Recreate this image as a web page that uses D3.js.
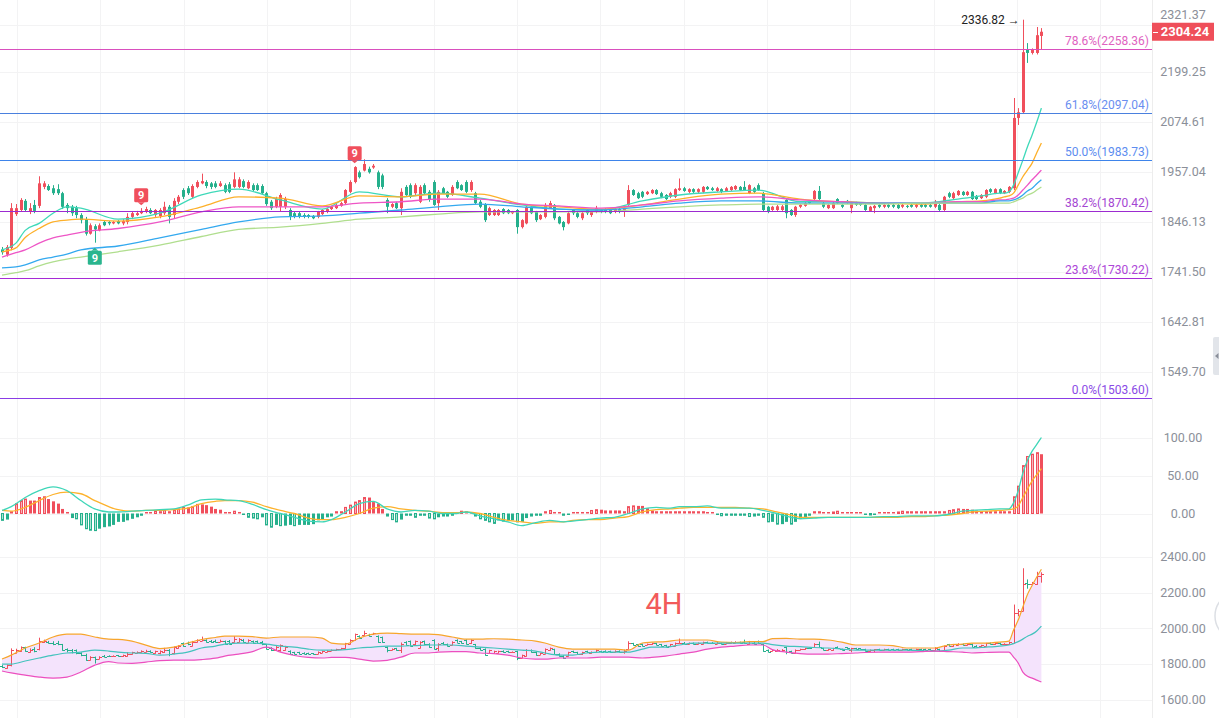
<!DOCTYPE html>
<html><head><meta charset="utf-8">
<script src="https://cdn.jsdelivr.net/npm/d3@7"></script>
<style>body{margin:0;background:#fff;overflow:hidden}svg{display:block;font-family:Roboto,"Noto Sans",Arial,sans-serif}</style>
</head><body><svg id="c" width="1219" height="718"></svg>
<script>
// ---------- DATA ----------
const opens = [1788,1777,1791,1863,1872,1892,1868,1883,1881,1923,1925,1920,1918,1909,1883,1879,1876,1861,1852,1821,1837,1828,1846,1846,1843,1848,1843,1846,1857,1861,1865,1868,1872,1861,1859,1865,1879,1861,1890,1916,1920,1901,1923,1931,1934,1931,1931,1925,1927,1929,1923,1923,1936,1920,1927,1927,1925,1909,1890,1879,1879,1879,1872,1865,1865,1861,1861,1859,1857,1863,1868,1874,1876,1881,1887,1912,1934,1956,1960,1964,1967,1956,1949,1894,1879,1887,1876,1923,1927,1909,1890,1927,1912,1934,1887,1920,1912,1905,1934,1927,1934,1916,1909,1890,1883,1861,1861,1861,1874,1872,1865,1872,1835,1843,1879,1868,1852,1857,1876,1883,1857,1846,1843,1872,1865,1854,1872,1861,1868,1872,1874,1872,1868,1874,1868,1883,1916,1909,1912,1907,1909,1916,1909,1905,1901,1901,1916,1920,1912,1918,1912,1912,1923,1920,1914,1918,1914,1916,1918,1923,1923,1909,1920,1927,1909,1879,1872,1872,1872,1894,1872,1861,1879,1881,1890,1896,1914,1887,1876,1876,1896,1883,1892,1876,1887,1887,1883,1870,1876,1883,1879,1883,1883,1883,1879,1881,1883,1879,1883,1883,1883,1879,1883,1872,1909,1898,1905,1912,1905,1912,1903,1898,1901,1918,1909,1918,1909,1912,1920,2084,2098,2256,2248,2248,2293];
const highs = [1793,1797,1887,1885,1898,1896,1887,1894,1947,1936,1929,1927,1929,1912,1887,1883,1881,1865,1857,1843,1841,1843,1850,1848,1848,1850,1852,1865,1868,1870,1876,1879,1876,1874,1876,1890,1883,1898,1905,1920,1925,1929,1938,1953,1938,1934,1936,1936,1931,1934,1956,1945,1940,1938,1931,1931,1929,1912,1894,1901,1909,1901,1876,1868,1868,1865,1863,1861,1870,1874,1876,1881,1885,1890,1918,1938,1970,1960,1986,1969,1975,1960,1953,1898,1887,1890,1920,1927,1931,1931,1927,1931,1916,1938,1916,1923,1914,1927,1938,1929,1938,1938,1912,1894,1887,1879,1874,1874,1876,1874,1870,1874,1852,1883,1881,1870,1863,1887,1892,1885,1859,1848,1868,1874,1868,1868,1874,1870,1881,1874,1876,1874,1876,1876,1880,1927,1918,1912,1914,1914,1918,1918,1912,1907,1912,1920,1942,1923,1920,1920,1920,1925,1925,1923,1923,1920,1923,1925,1927,1925,1936,1929,1923,1931,1912,1881,1881,1883,1883,1896,1874,1881,1885,1890,1892,1916,1925,1890,1885,1890,1898,1885,1894,1890,1890,1889,1885,1881,1883,1885,1885,1885,1885,1885,1885,1883,1885,1885,1885,1885,1885,1894,1885,1903,1912,1912,1916,1914,1914,1914,1905,1907,1918,1920,1920,1920,1916,1925,2133,2108,2336.82,2274,2260,2317,2314];
const lows = [1777,1773,1786,1859,1868,1868,1863,1865,1876,1918,1914,1905,1905,1874,1865,1859,1854,1843,1817,1819,1802,1826,1837,1839,1841,1841,1839,1841,1852,1859,1863,1865,1863,1857,1854,1861,1843,1854,1885,1896,1905,1898,1920,1929,1920,1918,1920,1923,1909,1909,1920,1920,1920,1918,1914,1914,1905,1881,1872,1876,1868,1874,1850,1854,1854,1854,1854,1852,1854,1861,1865,1872,1874,1879,1885,1909,1931,1942,1958,1953,1964,1918,1918,1865,1876,1874,1861,1903,1898,1905,1887,1905,1890,1881,1872,1907,1898,1903,1918,1914,1909,1912,1885,1876,1846,1859,1859,1859,1863,1863,1863,1821,1832,1841,1863,1846,1850,1854,1874,1850,1841,1828,1841,1861,1854,1850,1861,1857,1865,1865,1865,1863,1865,1865,1857,1881,1903,1896,1898,1905,1907,1905,1898,1894,1898,1898,1914,1912,1909,1909,1909,1909,1916,1914,1912,1909,1912,1914,1916,1914,1914,1907,1909,1914,1868,1865,1870,1870,1870,1854,1859,1857,1876,1879,1885,1894,1894,1876,1874,1874,1885,1876,1885,1865,1881,1881,1870,1868,1865,1876,1876,1876,1876,1874,1876,1876,1877,1876,1877,1877,1877,1876,1868,1870,1898,1896,1903,1903,1903,1894,1894,1896,1898,1909,1907,1907,1907,1909,1916,2067,2095,2222,2244,2244,2256];
const closes = [1782,1793,1876,1876,1894,1872,1876,1870,1931,1931,1916,1909,1909,1879,1876,1865,1861,1850,1821,1839,1830,1839,1839,1843,1846,1843,1848,1857,1865,1865,1870,1874,1865,1872,1872,1879,1857,1892,1901,1901,1909,1925,1934,1936,1925,1923,1923,1931,1912,1912,1940,1940,1923,1934,1916,1916,1909,1885,1876,1896,1905,1896,1857,1857,1857,1857,1857,1854,1868,1872,1874,1879,1883,1887,1916,1934,1968,1945,1975,1956,1971,1923,1923,1879,1885,1876,1912,1905,1901,1927,1923,1909,1894,1883,1912,1909,1901,1923,1920,1916,1912,1934,1887,1879,1850,1876,1872,1872,1865,1865,1868,1835,1850,1879,1865,1850,1861,1883,1887,1854,1843,1835,1865,1865,1857,1865,1865,1868,1876,1868,1868,1865,1874,1868,1874,1916,1905,1898,1901,1912,1916,1907,1901,1896,1909,1918,1920,1914,1918,1912,1918,1923,1918,1916,1920,1912,1920,1923,1925,1916,1916,1927,1912,1916,1872,1868,1879,1880,1880,1865,1861,1879,1883,1887,1887,1914,1896,1879,1883,1887,1887,1879,1887,1887,1883,1883,1872,1879,1881,1879,1883,1879,1879,1876,1883,1879,1879,1883,1879,1879,1879,1890,1872,1901,1901,1909,1914,1905,1912,1896,1896,1905,1916,1912,1918,1909,1914,1923,2084,2098,2250,2248,2256,2295,2304.24];

// moving averages (sampled at candle indices)
const maIdx = [0,3,5,8,11,14,17,25,34,43,51,60,69,77,86,94,103,112,120,129,138,146,155,163,172,181,189,198,206,211,215,216,217,218,219,220,221,222,223,224];
const ma1 = [1787,1801,1828,1843,1865,1879,1876,1852,1865,1905,1918,1894,1874,1912,1901,1909,1898,1883,1874,1872,1892,1905,1912,1916,1890,1890,1887,1887,1896,1903,1909,1909,1912,1927,1955,1984,2015,2043,2074,2108];
const ma2 = [1783,1791,1813,1832,1846,1850,1852,1848,1857,1879,1901,1898,1881,1903,1901,1907,1907,1885,1879,1874,1883,1896,1907,1909,1896,1890,1887,1885,1890,1892,1898,1901,1903,1909,1927,1946,1961,1977,2001,2024];
const ma3 = [1772,1781,1787,1801,1812,1818,1824,1832,1846,1868,1879,1879,1879,1887,1890,1896,1896,1885,1881,1876,1883,1892,1898,1901,1894,1890,1887,1887,1890,1890,1894,1894,1896,1898,1905,1916,1927,1939,1950,1961];
const ma4 = [1750,1752,1756,1766,1772,1778,1787,1795,1812,1830,1846,1857,1859,1865,1872,1879,1885,1879,1874,1872,1879,1887,1892,1892,1887,1887,1887,1887,1887,1887,1892,1892,1892,1894,1898,1905,1914,1920,1930,1939];
const ma5 = [1735,1740,1744,1754,1762,1768,1772,1783,1797,1815,1830,1835,1843,1852,1857,1863,1868,1868,1868,1868,1874,1879,1883,1885,1885,1885,1885,1887,1887,1887,1887,1887,1887,1890,1894,1898,1905,1909,1916,1923];

// fibonacci levels
const fibRatios = ['78.6%','61.8%','50.0%','38.2%','23.6%','0.0%'];
const fibValues = [2258.36,2097.04,1983.73,1870.42,1730.22,1503.60];

// TD sequential markers
const tdIdx = [20,30,76];
const tdSide = ['low','high','high'];
const tdText = ['9','9','9'];

// price axis ticks
const priceTicks = [2321.37,2199.25,2074.61,1957.04,1846.13,1741.50,1642.81,1549.70];

// MACD
const macdHist = [-9,-8,3,13,17,19,17,17,21,22,19,16,13,6,2,-6,-7,-15,-20,-22,-22.5,-20,-18,-17,-15,-11,-11,-9,-7,-5,-3,2,2,3,3,4,3,4,6,8,8,9,12,12,11,9,6,5,2,1,3,2,-1,-5,-6,-7,-5,-15,-18,-15,-16,-16,-15,-16,-15,-15,-15,-14,-9,-8,-5,-4,3,3,8,11,15,17,21,21,15,13,6,-4,-8,-11,-8,-3,-3,-5,-3,-3,-6,-7,-5,-4,-4,-3,2,3,3,1,-4,-7,-9,-11,-13,-9,-10,-10,-9,-11,-11,-6,-4,-3,-3,3,4,2,1,-3,-1,2,2,2,2,4,5,5,4,4,4,4,3,9,10,10,10,7,4,3,3,3,3,3,3,3,3,3,3,3,2,2,-2,-3,-3,-3,-3,-3,-3,-4,-4,-3,-5,-11,-11,-14,-14,-11,-14,-11,-7,-5,-3,3,3,1,1,2,3,2,1,1,1,1,-1,-2,-2,1,1,1,1,2,3,3,3,3,3,3,3,3,3,3,4,5,6,6,6,5,4,3,3,3,3,3,3,3,22,36,63,75,78,80,78];
const macdIdx = [0,2,5,8,11,14,17,20,23,25,28,31,34,37,40,43,46,48,51,54,57,60,63,66,69,71,74,77,80,83,86,89,92,95,98,100,103,106,109,112,115,118,121,123,126,129,132,135,138,141,144,146,149,152,155,158,161,164,167,170,172,175,178,181,184,187,190,193,196,199,201,204,207,209,212,215,217,218,219,220,221,222,223,224];
const difVals = [4,9,21,30,35,30,17,6,2,2,3,4,5,6,11,18,19,18,17,12,5,0,-5,-10,-11,-8,2,13,16,6,2,4,3,0,0,2,-3,-7,-11,-16,-12,-9,-11,-10,-8,-6,-5,0,6,8,7,9,9,10,7,7,7,4,0,-5,-7,-6,-5,-5,-5,-5,-4,-4,-3,-3,-3,-1,3,4,5,6,6,14,30,53,70,82,91,100];
const deaVals = [4,3,8,17,25,28,26,17,9,5,3,4,4,5,7,13,16,17,17,15,9,4,0,-6,-8,-8,-5,0,7,9,6,4,3,1,1,2,0,-5,-9,-11,-13,-11,-11,-9,-8,-8,-6,-4,2,5,6,7,8,8,8,8,7,6,2,-2,-5,-5,-5,-5,-5,-5,-5,-5,-4,-4,-3,-2,0,2,3,4,5,6,10,21,32,43,51,59];
const macdTicks = [100,50,0];

// Bollinger bands
const bollIdx = [0,2,5,8,11,14,17,20,23,25,28,31,34,37,40,43,46,48,51,54,57,60,63,66,69,71,74,77,80,83,86,89,92,94,97,100,103,106,109,112,115,117,120,123,126,129,132,135,138,140,143,146,149,152,155,158,161,164,166,169,172,175,178,181,184,186,189,192,195,198,201,204,207,209,212,215,217,218,219,220,221,222,223,224];
const bollUpper = [1827,1849,1889,1917,1951,1967,1967,1951,1939,1937,1928,1905,1886,1894,1917,1937,1948,1956,1956,1953,1945,1951,1951,1951,1945,1917,1911,1945,1967,1973,1970,1967,1967,1964,1951,1939,1939,1941,1939,1934,1928,1917,1894,1883,1883,1883,1883,1877,1917,1922,1925,1934,1934,1934,1922,1920,1925,1925,1942,1943,1939,1939,1934,1922,1906,1906,1906,1903,1889,1889,1889,1906,1911,1917,1917,1922,1928,1990,2046,2119,2190,2240,2288,2331];
const bollMid = [1799,1799,1816,1833,1849,1861,1866,1877,1872,1866,1861,1859,1849,1855,1866,1889,1900,1911,1917,1917,1911,1900,1894,1883,1877,1877,1880,1889,1894,1900,1900,1903,1906,1906,1906,1900,1894,1889,1883,1877,1872,1861,1849,1849,1861,1866,1866,1866,1883,1894,1894,1906,1917,1917,1917,1917,1917,1917,1908,1900,1897,1892,1889,1883,1877,1877,1877,1877,1877,1874,1872,1877,1889,1889,1894,1900,1906,1914,1925,1939,1955,1967,1985,2012];
const bollLower = [1760,1749,1737,1726,1720,1726,1754,1793,1813,1805,1803,1810,1818,1821,1821,1824,1832,1844,1855,1869,1894,1866,1847,1836,1833,1836,1837,1827,1816,1820,1838,1861,1861,1866,1869,1869,1861,1858,1849,1833,1827,1827,1833,1833,1833,1838,1838,1838,1833,1836,1844,1855,1866,1883,1894,1900,1906,1906,1880,1866,1858,1855,1855,1858,1861,1864,1866,1866,1866,1869,1872,1869,1866,1861,1864,1866,1866,1838,1805,1754,1730,1720,1709,1698];
const bollTicks = [2400,2200,2000,1800,1600];
const periodLabel = '4H';

// ---------- DRAW ----------
const N = closes.length;
const PR = 1152;
const UP = '#f04f5c', DN = '#25b08c';
const svg = d3.select('#c');
const x = d3.scaleLinear().domain([0, N - 1]).range([2, 1041.4]);
const yMain = d3.scaleLog().domain([1503.6, 2258.36]).range([398, 49]);
const yMacd = d3.scaleLinear().domain([0, 100]).range([513.5, 437.5]);
const yBoll = d3.scaleLinear().domain([1600, 2400]).range([699.5, 557]);
const f2 = d3.format('.2f');
const cx = i => Math.round(x(i)) + 0.5;
const last = closes[N - 1];
const ly = yMain(last);

const defs = svg.append('defs');
defs.append('clipPath').attr('id', 'cm').append('rect').attr('x', 0).attr('y', 0).attr('width', PR).attr('height', 412);
defs.append('clipPath').attr('id', 'cd').append('rect').attr('x', 0).attr('y', 412).attr('width', PR).attr('height', 134);
defs.append('clipPath').attr('id', 'cb').append('rect').attr('x', 0).attr('y', 546).attr('width', PR).attr('height', 172);

// grid
const grid = svg.append('g').attr('stroke', '#f3f3f4').attr('stroke-width', 1);
grid.selectAll('line.v').data(d3.range(14)).join('line')
  .attr('x1', k => Math.round(17 + k * 83.333) + 0.5).attr('x2', k => Math.round(17 + k * 83.333) + 0.5)
  .attr('y1', 0).attr('y2', 718);
const hl = (arr, sc) => grid.append('g').selectAll('line').data(arr).join('line')
  .attr('x1', 0).attr('x2', PR).attr('y1', d => Math.round(sc(d)) + 0.5).attr('y2', d => Math.round(sc(d)) + 0.5);
hl(priceTicks, yMain); hl(macdTicks, yMacd); hl(bollTicks, yBoll);
svg.append('line').attr('x1', PR + 0.5).attr('x2', PR + 0.5).attr('y1', 0).attr('y2', 718).attr('stroke', '#ededed');

// ----- main panel -----
const main = svg.append('g').attr('clip-path', 'url(#cm)');
const up = i => closes[i] >= opens[i];
const ids = d3.range(N);
main.append('g').selectAll('line').data(ids).join('line')
  .attr('x1', cx).attr('x2', cx).attr('y1', i => yMain(highs[i])).attr('y2', i => yMain(lows[i]))
  .attr('stroke', i => up(i) ? UP : DN).attr('stroke-width', 1);
main.append('g').selectAll('rect').data(ids).join('rect')
  .attr('x', i => Math.round(x(i)) - 1).attr('width', 3)
  .attr('y', i => Math.min(yMain(opens[i]), yMain(closes[i])))
  .attr('height', i => Math.max(1, Math.abs(yMain(opens[i]) - yMain(closes[i]))))
  .attr('fill', i => up(i) ? UP : DN);

const maColors = ['#3fd9b9', '#fdb02a', '#ee56c6', '#33a9ef', '#b0de8e'];
[ma1, ma2, ma3, ma4, ma5].forEach((arr, k) => {
  const pts = maIdx.map((ix, j) => [ix, arr[j]]);
  main.append('path').attr('d', d3.line().x(d => x(d[0])).y(d => yMain(d[1])).curve(d3.curveMonotoneX)(pts))
    .attr('fill', 'none').attr('stroke', maColors[k]).attr('stroke-width', 1.3);
});

// fib lines
const fibLine = ['#d94fbe', '#4a80de', '#3e84ea', '#9c2bd0', '#a62ad6', '#8a3ce6'];
const fibText = ['#e062bf', '#6a8ef0', '#5d8df0', '#a446d2', '#ad45d8', '#8a4ae6'];
fibValues.forEach((v, k) => {
  const yy = Math.round(yMain(v)) + 0.5;
  svg.append('line').attr('x1', 0).attr('x2', PR).attr('y1', yy).attr('y2', yy).attr('stroke', fibLine[k]).attr('stroke-width', 1);
  svg.append('text').attr('x', 1149).attr('y', yy - 4.5).attr('text-anchor', 'end').attr('font-size', 12)
    .attr('fill', fibText[k]).text(fibRatios[k] + '(' + f2(v) + ')');
});

// TD markers
tdIdx.forEach((ix, k) => {
  const xx = x(ix);
  const g = svg.append('g');
  let col, by, tip, base;
  if (tdSide[k] === 'high') {
    col = '#f04f5c'; tip = yMain(highs[ix]) - 3; base = tip - 3; by = base - 14;
  } else {
    col = '#2ab58e'; tip = yMain(lows[ix]) + 5; base = tip + 3; by = base;
  }
  g.append('rect').attr('x', xx - 7).attr('y', by).attr('width', 14).attr('height', 14).attr('rx', 1.5).attr('fill', col);
  g.append('path').attr('d', `M${xx - 3.5},${base}L${xx + 3.5},${base}L${xx},${tip}Z`).attr('fill', col);
  g.append('text').attr('x', xx).attr('y', by + 7).attr('dy', '0.36em').attr('text-anchor', 'middle')
    .attr('font-size', 11).attr('font-weight', 'bold').attr('fill', '#fff').text(tdText[k]);
});

// high label
const hiIdx = d3.maxIndex(highs);
svg.append('text').attr('x', x(hiIdx) - 3).attr('y', yMain(highs[hiIdx])).attr('dy', '0.35em')
  .attr('text-anchor', 'end').attr('font-size', 12).attr('fill', '#222').text(f2(highs[hiIdx]) + ' \u2192');

// price axis (a tick label that would sit under the last-price box is lifted above it)
const ax = svg.append('g').attr('font-size', 12.5).attr('fill', '#8b8f99').attr('text-anchor', 'middle');
ax.selectAll('text.p').data(priceTicks).join('text').attr('x', 1183)
  .attr('y', d => Math.abs(yMain(d) - ly) < 16 ? ly - 17 : yMain(d)).attr('dy', '0.35em').text(f2);
ax.selectAll('text.m').data(macdTicks).join('text').attr('x', 1183).attr('y', d => yMacd(d)).attr('dy', '0.35em').text(f2);
ax.selectAll('text.b').data(bollTicks).join('text').attr('x', 1183).attr('y', d => yBoll(d)).attr('dy', '0.35em').text(f2);

// last price box
svg.append('rect').attr('x', PR).attr('y', ly - 9).attr('width', 62).attr('height', 18).attr('fill', '#ef4f5a');
svg.append('line').attr('x1', PR + 1).attr('x2', PR + 6).attr('y1', Math.round(ly) + 0.5).attr('y2', Math.round(ly) + 0.5).attr('stroke', '#fff');
svg.append('text').attr('x', 1185).attr('y', ly).attr('dy', '0.36em').attr('text-anchor', 'middle')
  .attr('font-size', 13).attr('font-weight', 'bold').attr('fill', '#fff').text(f2(last));

// ----- MACD panel -----
const md = svg.append('g').attr('clip-path', 'url(#cd)');
const y0 = yMacd(0);
md.append('g').selectAll('rect').data(ids).join('rect').each(function (i) {
  const v = macdHist[i];
  const prev = i > 0 ? macdHist[i - 1] : 0;
  const hollow = Math.abs(v) > Math.abs(prev) && (v * prev >= 0);
  const pos = v >= 0;
  const yv = yMacd(v);
  const h = Math.max(1.5, Math.abs(yv - y0));
  const r = d3.select(this);
  if (hollow) {
    r.attr('x', Math.round(x(i)) - 0.5).attr('width', 2).attr('y', pos ? y0 - h : y0).attr('height', h)
      .attr('fill', pos ? '#f8b3ba' : '#aee4d3').attr('stroke', pos ? UP : DN).attr('stroke-width', 1);
  } else {
    r.attr('x', Math.round(x(i)) - 1).attr('width', 3).attr('y', pos ? y0 - h : y0).attr('height', h)
      .attr('fill', pos ? UP : DN);
  }
});
const mline = vals => d3.line().x(d => x(d[0])).y(d => yMacd(d[1])).curve(d3.curveMonotoneX)(macdIdx.map((ix, j) => [ix, vals[j]]));
md.append('path').attr('d', mline(deaVals)).attr('fill', 'none').attr('stroke', '#fdb22c').attr('stroke-width', 1.3);
md.append('path').attr('d', mline(difVals)).attr('fill', 'none').attr('stroke', '#3fd6b8').attr('stroke-width', 1.3);

// ----- Bollinger panel -----
const bp = svg.append('g').attr('clip-path', 'url(#cb)');
const bpts = bollIdx.map((ix, j) => ({ i: ix, u: bollUpper[j], m: bollMid[j], l: bollLower[j] }));
bp.append('path').attr('d', d3.area().x(d => x(d.i)).y0(d => yBoll(d.l)).y1(d => yBoll(d.u)).curve(d3.curveMonotoneX)(bpts))
  .attr('fill', '#f4e3fc');
const ohlc = bp.append('g');
ids.forEach(i => {
  const c = up(i) ? UP : DN, xx = cx(i);
  ohlc.append('line').attr('x1', xx).attr('x2', xx).attr('y1', yBoll(highs[i])).attr('y2', yBoll(lows[i])).attr('stroke', c);
  ohlc.append('line').attr('x1', xx - 2.5).attr('x2', xx).attr('y1', Math.round(yBoll(opens[i])) + 0.5).attr('y2', Math.round(yBoll(opens[i])) + 0.5).attr('stroke', c);
  ohlc.append('line').attr('x1', xx).attr('x2', xx + 2.5).attr('y1', Math.round(yBoll(closes[i])) + 0.5).attr('y2', Math.round(yBoll(closes[i])) + 0.5).attr('stroke', c);
});
const bl = key => d3.line().x(d => x(d.i)).y(d => yBoll(d[key])).curve(d3.curveMonotoneX)(bpts);
bp.append('path').attr('d', bl('u')).attr('fill', 'none').attr('stroke', '#f7a62c').attr('stroke-width', 1.2);
bp.append('path').attr('d', bl('m')).attr('fill', 'none').attr('stroke', '#43c3bd').attr('stroke-width', 1.2);
bp.append('path').attr('d', bl('l')).attr('fill', 'none').attr('stroke', '#ec4fbf').attr('stroke-width', 1.2);

svg.append('text').attr('x', 664).attr('y', 614).attr('text-anchor', 'middle').attr('font-size', 29)
  .attr('fill', '#f25a5a').text(periodLabel);

// UI bits on the right edge
svg.append('rect').attr('x', 1213).attr('y', 337).attr('width', 10).attr('height', 38).attr('rx', 2).attr('fill', '#e2e5ea');
svg.append('path').attr('d', 'M1215,356L1218.5,353L1218.5,359Z').attr('fill', '#8a8f99');
svg.append('circle').attr('cx', 1239).attr('cy', 616).attr('r', 24).attr('fill', '#fff').attr('stroke', '#dcdfe4').attr('stroke-width', 1.5);
</script></body></html>
